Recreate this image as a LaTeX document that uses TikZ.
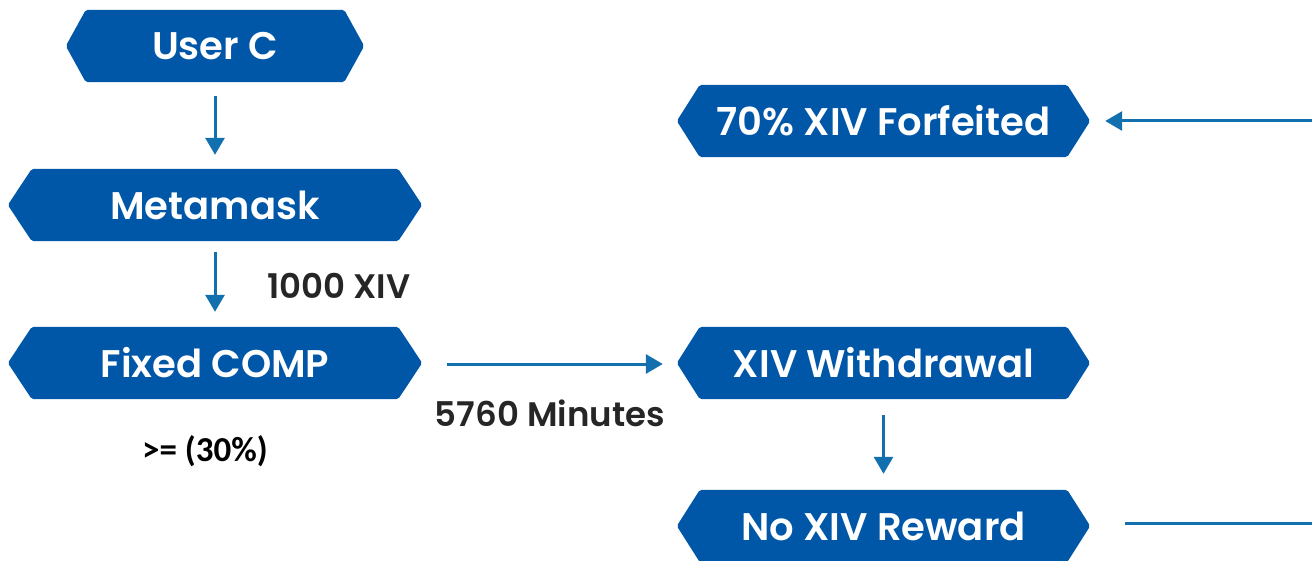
\documentclass[tikz,border=0pt]{standalone}
\usepackage{fontspec}
\setmainfont{Poppins}[BoldFont={Poppins SemiBold}]
\newfontfamily\carl{Carlito}[BoldFont={Carlito Bold}]
\usetikzlibrary{arrows.meta}
\pgfdeclarelayer{background}
\pgfsetlayers{background,main}
\definecolor{boxblue}{HTML}{0057A8}
\definecolor{arrowblue}{HTML}{1270AE}
\definecolor{labelgray}{HTML}{262626}
\tikzset{
  hexbox/.style={minimum height=72pt, inner sep=0pt, text=white,
    font=\fontsize{38.5}{44}\selectfont\bfseries},
  flow/.style={draw=arrowblue, line width=3pt, -{Triangle[length=17pt,width=19pt]}},
  plainflow/.style={draw=arrowblue, line width=3pt},
  lbl/.style={text=labelgray, inner sep=0pt, font=\fontsize{34}{38}\selectfont\bfseries},
}
\newcommand{\hexfill}[2]{% name, indent
  \begin{pgfonlayer}{background}
  \fill[boxblue, rounded corners=2pt]
    (#1.west) -- ([xshift=#2]#1.north west) -- ([xshift=-#2]#1.north east)
    -- (#1.east) -- ([xshift=-#2]#1.south east) -- ([xshift=#2]#1.south west) -- cycle;
  \end{pgfonlayer}}
\begin{document}
\begin{tikzpicture}[x=1pt,y=-1pt]
\useasboundingbox (0,0) rectangle (1312,561);
\node[hexbox, minimum width=298pt] (userc) at (215,46) {User C};
\node[hexbox, minimum width=414pt] (meta) at (215,205) {Metamask};
\node[hexbox, minimum width=414pt] (fixed) at (215,363) {Fixed COMP};
\node[hexbox, minimum width=413pt] (forf) at (883.5,121) {70\% XIV Forfeited};
\node[hexbox, minimum width=413pt] (withd) at (883.5,363) {XIV Withdrawal};
\node[hexbox, minimum width=413pt] (noxiv) at (883.5,526) {No XIV Reward};
\hexfill{userc}{20pt}
\hexfill{meta}{24pt}
\hexfill{fixed}{24pt}
\hexfill{forf}{23pt}
\hexfill{withd}{23pt}
\hexfill{noxiv}{23pt}
\node[lbl] (l1000) at (339,286) {1000 XIV};
\node[lbl] (l5760) at (550,413) {5760 Minutes};
\node[inner sep=0pt, text=black, font=\carl\fontsize{35}{40}\selectfont\bfseries] (l30) at (205,451) {>= (30\%)};
\coordinate (fin) at (1312,121);
\coordinate (fout) at (1312,523);
\draw[flow] ([yshift=-14pt]userc.south) -- ([yshift=14pt]meta.north);
\draw[flow] ([yshift=-11pt]meta.south) -- ([yshift=15pt]fixed.north);
\draw[flow] ([xshift=25pt,yshift=-1pt]fixed.east) -- ([xshift=-14pt,yshift=-1pt]withd.west);
\draw[flow] ([yshift=-16pt]withd.south) -- ([yshift=16pt]noxiv.north);
\draw[flow] (fin) -- ([xshift=15pt]forf.east);
\draw[plainflow] ([xshift=35pt,yshift=3pt]noxiv.east) -- (fout);
\end{tikzpicture}
\end{document}
